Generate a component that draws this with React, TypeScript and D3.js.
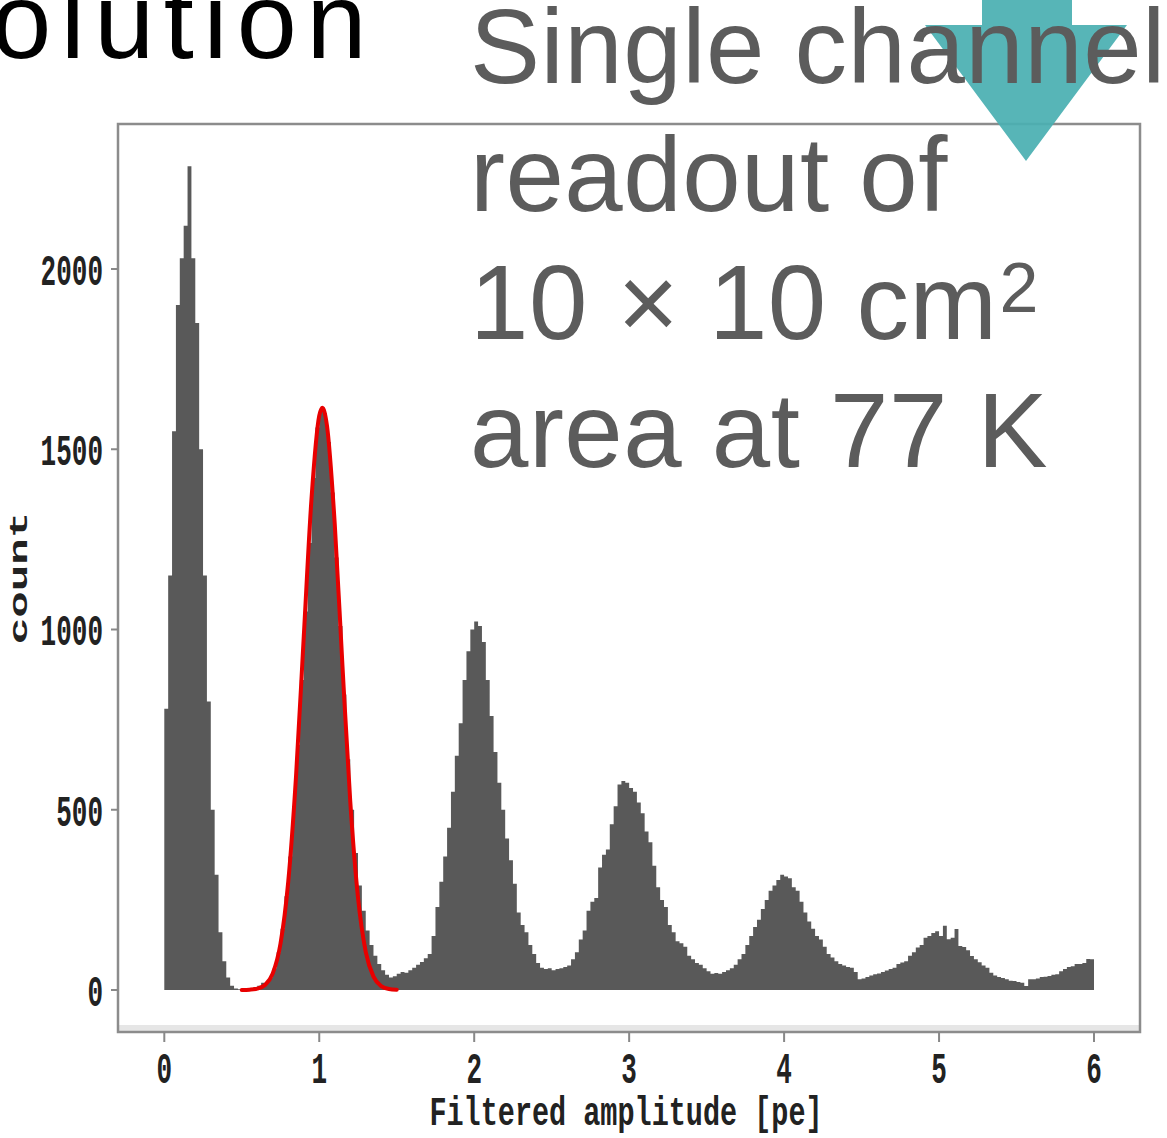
import React from "react";
import * as d3 from "d3";

const binWidth = 0.025;
const counts = [
  780, 1150, 1550, 1900, 2030, 2120, 2285, 2030, 1850, 1500,
  1150, 800, 500, 320, 160, 80, 35, 12, 4, 2,
  2, 3, 5, 8, 12, 20, 22, 35, 60, 105,
  170, 260, 370, 510, 680, 860, 1050, 1240, 1420, 1560,
  1610, 1600, 1520, 1380, 1200, 1010, 820, 640, 500, 380,
  290, 220, 165, 125, 95, 72, 55, 42, 35, 38,
  45, 50, 48, 55, 62, 70, 78, 88, 100, 150,
  230, 300, 370, 450, 550, 650, 740, 860, 940, 1000,
  1022, 1010, 965, 860, 760, 660, 575, 500, 420, 360,
  295, 215, 180, 160, 125, 100, 75, 62, 58, 60,
  55, 58, 60, 64, 68, 85, 105, 140, 165, 220,
  245, 255, 340, 375, 390, 460, 510, 570, 580, 575,
  560, 550, 520, 490, 440, 410, 345, 285, 250, 230,
  180, 160, 135, 130, 120, 95, 85, 75, 70, 60,
  52, 45, 47, 45, 50, 55, 60, 70, 85, 100,
  125, 150, 175, 195, 225, 250, 275, 290, 305, 320,
  315, 310, 285, 275, 245, 215, 190, 170, 150, 140,
  120, 100, 90, 80, 72, 68, 64, 62, 50, 30,
  32, 36, 40, 44, 46, 50, 54, 58, 62, 72,
  76, 80, 95, 105, 118, 125, 145, 150, 158, 163,
  150, 178, 141, 145, 169, 122, 119, 110, 94, 85,
  77, 68, 62, 48, 40, 36, 33, 30, 26, 25,
  22, 20, 11, 30, 30, 32, 36, 37, 39, 42,
  44, 52, 58, 64, 66, 72, 72, 75, 86, 85,
];

const fitX = [0.5, 0.55, 0.6, 0.65, 0.7, 0.75, 0.8, 0.85, 0.9, 0.95, 1.0, 1.02, 1.05, 1.1, 1.15, 1.2, 1.25, 1.3, 1.35, 1.4, 1.45, 1.5];
const fitY = [0, 1, 4, 14, 46, 129, 301, 592, 980, 1363, 1593, 1615, 1565, 1293, 898, 524, 257, 106, 37, 11, 3, 1];

const xTicks = [0, 1, 2, 3, 4, 5, 6];
const yTicks = [0, 500, 1000, 1500, 2000];

const xLabel = "Filtered amplitude [pe]";
const yLabel = "count";
const titleFragment = "Resolution";
const noteLines = ["Single channel", "readout of", "10 × 10 cm²", "area at 77 K"];

export default function App() {
  const x = d3.scaleLinear().domain([0, 6]).range([164.3, 1094]);
  const y = d3.scaleLinear().domain([0, 2000]).range([990, 269]);

  const stepPts: [number, number][] = [];
  counts.forEach((c, i) => {
    stepPts.push([i * binWidth, c]);
    stepPts.push([(i + 1) * binWidth, c]);
  });
  const area = d3
    .area<[number, number]>()
    .x((d) => x(d[0]))
    .y0(y(0))
    .y1((d) => y(d[1]));
  const histPath = area(stepPts) || "";

  const line = d3
    .line<number>()
    .x((_, i) => x(fitX[i]))
    .y((d) => y(d))
    .curve(d3.curveMonotoneX);
  const fitPath = line(fitY) || "";

  const mono = "'Liberation Mono', 'DejaVu Sans Mono', monospace";
  const sans = "'Liberation Sans', Arial, Helvetica, sans-serif";
  const frame = { x: 118, y: 124, w: 1022, h: 908 };

  const renderNote = (l: string) => {
    if (l.endsWith("²")) {
      return (
        <>
          {l.slice(0, -1)}
          <tspan fontSize={70} dx={2} dy={-27}>
            {"2"}
          </tspan>
        </>
      );
    }
    return l;
  };

  return (
    <svg
      width={1167}
      height={1138}
      style={{ position: "absolute", left: 0, top: 0, background: "#fff" }}
    >
      <rect x={0} y={0} width={1167} height={1138} fill="#fff" />
      {/* frame shadow */}
      <rect x={frame.x} y={frame.y + frame.h - 7} width={frame.w} height={6} fill="#e6e6e6" />
      <rect
        x={frame.x}
        y={frame.y}
        width={frame.w}
        height={frame.h}
        fill="none"
        stroke="#8c8c8c"
        strokeWidth={2.5}
      />
      <path d={histPath} fill="#595959" />
      <path d={fitPath} fill="none" stroke="#e80000" strokeWidth={4} strokeLinecap="round" />

      {yTicks.map((t) => (
        <g key={"y" + t}>
          <line x1={111} x2={frame.x} y1={y(t)} y2={y(t)} stroke="#888" strokeWidth={2} />
          <g transform={`translate(103, ${y(t)}) scale(1, 1.7)`}>
            <text
              textAnchor="end"
              dy="0.36em"
              fontFamily={mono}
              fontWeight="bold"
              fontSize={26}
              fill="#222"
            >
              {t}
            </text>
          </g>
        </g>
      ))}
      {xTicks.map((t) => (
        <g key={"x" + t}>
          <line
            x1={x(t)}
            x2={x(t)}
            y1={frame.y + frame.h}
            y2={frame.y + frame.h + 10}
            stroke="#888"
            strokeWidth={2}
          />
          <g transform={`translate(${x(t)}, 1067) scale(1, 1.7)`}>
            <text
              textAnchor="middle"
              dy="0.36em"
              fontFamily={mono}
              fontWeight="bold"
              fontSize={26}
              fill="#222"
            >
              {t}
            </text>
          </g>
        </g>
      ))}
      <g transform="translate(626, 1111) scale(1, 1.45)">
        <text textAnchor="middle" dy="0.33em" fontFamily={mono} fontWeight="bold" fontSize={28.5} fill="#222">
          {xLabel}
        </text>
      </g>
      <g transform="translate(19, 578) scale(1, 1.7) rotate(-90)">
        <text textAnchor="middle" dy="0.3em" fontFamily={mono} fontWeight="bold" fontSize={26} fill="#222">
          {yLabel}
        </text>
      </g>

      {/* title fragment (cropped in the source slide) */}
      <text
        x={376}
        y={58}
        textAnchor="end"
        fontFamily={sans}
        fontSize={108}
        letterSpacing={9.5}
        fill="#000"
      >
        {titleFragment}
      </text>

      {/* arrow */}
      <path
        d="M982,-5 L1072,-5 L1072,25 L1127,25 L1026,161 L925,25 L982,25 Z"
        fill="#4aafb2"
        opacity={0.93}
      />

      {noteLines.map((l, i) => (
        <text
          key={i}
          x={470}
          y={83 + i * 128}
          fontFamily={sans}
          fontSize={105}
          letterSpacing={0.5}
          fill="#5c5c5c"
        >
          {renderNote(l)}
        </text>
      ))}
    </svg>
  );
}
